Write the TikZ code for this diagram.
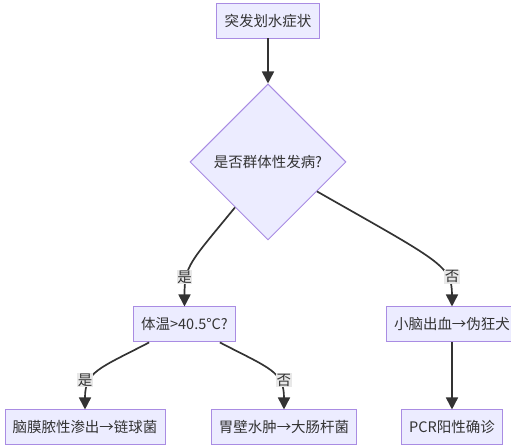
\documentclass[tikz,border=0pt]{standalone}
\usepackage{fontspec}
\setmainfont{Noto Sans CJK SC}
\usepackage{xcolor}
\usepackage{tikz}
\usetikzlibrary{arrows.meta, positioning, shapes.geometric}

\definecolor{nodefill}{HTML}{ECECFF}
\definecolor{nodeline}{HTML}{A98CE3}
\definecolor{inkgray}{HTML}{333333}
\definecolor{labelbg}{HTML}{E8E8E8}

\begin{document}
\begin{tikzpicture}[
    stage/.style={draw=nodeline, fill=nodefill, text=inkgray, line width=0.7pt,
                  minimum height=0.875cm, inner xsep=0.19cm, inner ysep=0pt,
                  font=\fontsize{10.3}{12}\selectfont},
    decision/.style={stage, diamond, aspect=1, minimum width=3.9cm, minimum height=3.9cm, inner sep=0pt},
    arr/.style={-{Triangle[length=0.3cm,width=0.3cm]}, draw=inkgray, line width=1.2pt},
    lbl/.style={fill=labelbg, text=inkgray, inner sep=0.5pt, font=\fontsize{10.3}{12}\selectfont}
]
\useasboundingbox (-6.7,0.5125) rectangle (6.075,-10.6875);

\node[stage] (onset) {突发划水症状};
\node[decision, below=1.125cm of onset.south] (group) {是否群体性发病?};
\node[stage, below=1.65cm of group.south, xshift=-2.0875cm] (temp) {体温>40.5°C?};
\node[stage, below=1.65cm of group.south, xshift=4.6cm] (rabies) {小脑出血→伪狂犬};
\node[stage, below=1.675cm of temp.south, xshift=-2.4875cm] (strep) {脑膜脓性渗出→链球菌};
\node[stage, below=1.675cm of temp.south, xshift=2.4875cm] (coli) {胃壁水肿→大肠杆菌};
\node[stage, below=1.675cm of rabies.south] (pcr) {PCR阳性确诊};

\draw[arr] (onset) -- (group);
\draw[arr] (rabies) -- (pcr);

% 群体性分支
\draw[arr] (group.234) .. controls +(-1.125,-1.375) and +(0,1.025) .. node[lbl,pos=0.7,xshift=-0.06cm]{是} (temp.north);
\draw[arr] (group.-31.5) .. controls +(3.075,-1.75) and +(0,1.025) .. node[lbl,pos=0.7,xshift=0.15cm]{否} (rabies.north);

% 体温分支
\draw[arr] ([xshift=0.4cm]temp.south west) .. controls +(-1.25,-0.65) and +(0,0.95) .. node[lbl,pos=0.65,xshift=-0.15cm]{是} (strep.north);
\draw[arr] ([xshift=-0.4cm]temp.south east) .. controls +(1.25,-0.65) and +(0,0.95) .. node[lbl,pos=0.65,xshift=0.15cm]{否} (coli.north);
\end{tikzpicture}
\end{document}
